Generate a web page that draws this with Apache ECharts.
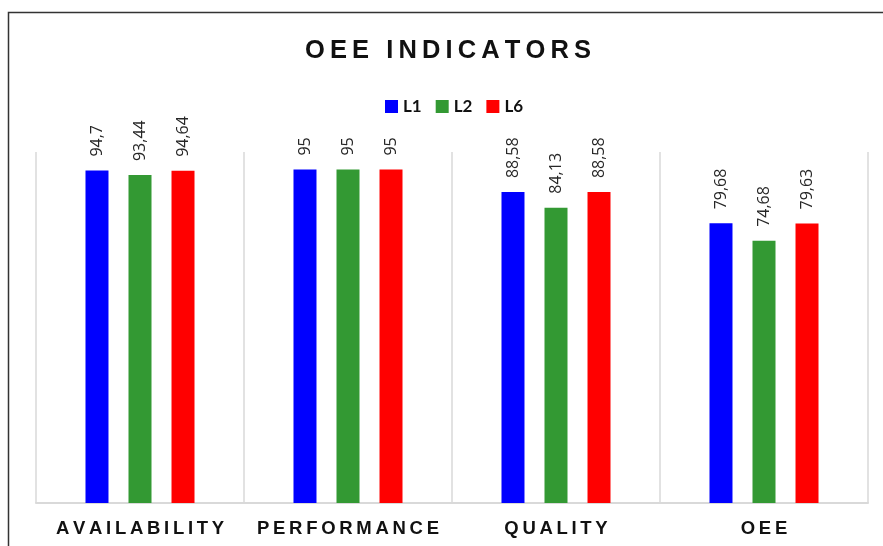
<!DOCTYPE html>
<html>
<head>
<meta charset="utf-8">
<script src="https://cdn.jsdelivr.net/npm/echarts@6/dist/echarts.min.js"></script>
<style>
  html, body { margin: 0; padding: 0; background: #fff; }
  #myChart { width: 883px; height: 546px; }
</style>
</head>
<body>
<div id="myChart"></div>
<script>
// categories and values
var categories = ["AVAILABILITY", "PERFORMANCE", "QUALITY", "OEE"];
var seriesNames = ["L1", "L2", "L6"];
var l1Values = [94.7, 95, 88.58, 79.68];
var l2Values = [93.44, 95, 84.13, 74.68];
var l6Values = [94.64, 95, 88.58, 79.63];
var seriesColors = ["#0000ff", "#339933", "#ff0000"];

// spread letters a bit, like the excel chart
function spaced(str) {
  return str.split("").join("\u2009");
}

function makeSeries(name, data, color) {
  return {
    type: "bar",
    name: name,
    data: data,
    barWidth: 23,
    barGap: "87%",
    itemStyle: { color: color },
    label: {
      show: true,
      position: "top",
      rotate: 90,
      align: "left",
      verticalAlign: "middle",
      distance: 14,
      color: "#262626",
      fontFamily: "Open Sans",
      fontSize: 16,
      formatter: function (p) {
        return String(p.value).replace(".", ",");
      },
    },
  };
}

var chart = echarts.init(document.getElementById("myChart"));
var option = {
  animation: false,
  title: {
    text: spaced("OEE INDICATORS"),
    left: 300,
    top: 33,
    textStyle: {
      fontFamily: "Liberation Sans",
      fontWeight: "bold",
      fontSize: 25.5,
      color: "#111",
    },
  },
  legend: {
    data: seriesNames,
    top: 93,
    left: 380,
    icon: "rect",
    itemWidth: 13,
    itemHeight: 13,
    itemGap: 14,
    textStyle: {
      fontFamily: "Lato",
      fontWeight: "bold",
      fontSize: 17,
      color: "#111",
    },
  },
  graphic: [
    {
      type: "rect",
      shape: { x: 8.5, y: 12.5, width: 1000, height: 1000 },
      style: { fill: "none", stroke: "#333", lineWidth: 1.5 },
      silent: true,
    },
  ],
  grid: {
    left: 36,
    right: 15,
    top: 152,
    bottom: 43,
  },
  xAxis: {
    type: "category",
    data: categories,
    axisTick: { show: false },
    axisLine: { lineStyle: { color: "#d9d9d9", width: 2 } },
    splitLine: { show: true, interval: 0, lineStyle: { color: "#d9d9d9", width: 1.5 } },
    axisLabel: {
      interval: 0,
      margin: 16,
      fontFamily: "Liberation Sans",
      fontWeight: "bold",
      fontSize: 18.5,
      color: "#111",
      formatter: function (v) {
        return spaced(v);
      },
    },
  },
  yAxis: {
    type: "value",
    min: 0,
    max: 100,
    show: false,
    splitLine: { show: false },
  },
  series: [
    makeSeries(seriesNames[0], l1Values, seriesColors[0]),
    makeSeries(seriesNames[1], l2Values, seriesColors[1]),
    makeSeries(seriesNames[2], l6Values, seriesColors[2]),
  ],
};
chart.setOption(option);
</script>
</body>
</html>
